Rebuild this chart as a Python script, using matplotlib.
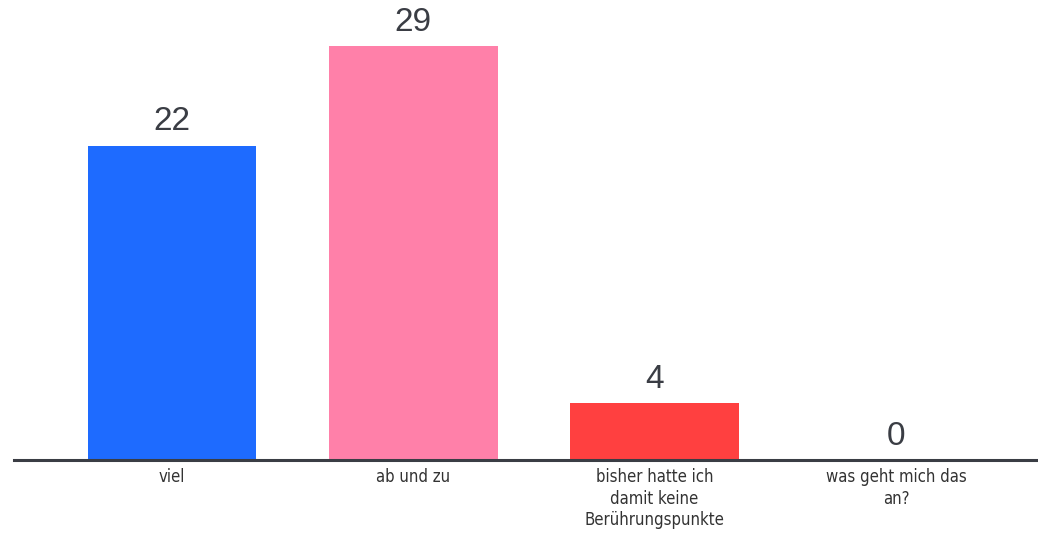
import matplotlib.pyplot as plt

# Survey answers and counts
categories = ["viel", "ab und zu", "bisher hatte ich\ndamit keine\nBerührungspunkte", "was geht mich das\nan?"]
counts = [22, 29, 4, 0]
colors = ["#1e6bff", "#ff80a9", "#ff4040", "#8a8a8a"]

W, H = 1038, 533
fig = plt.figure(figsize=(W / 100, H / 100), dpi=100)
# axes placed so the baseline sits near the lower edge
ax = fig.add_axes([14 / W, (H - 460) / H, 1 - 14 / W, 448 / H])

x = range(len(categories))
bars = ax.bar(x, counts, width=0.7, color=colors, zorder=2)

for rect, v in zip(bars, counts):
    ax.annotate(str(v), (rect.get_x() + rect.get_width() / 2, v),
                xytext=(0, 6), textcoords="offset points",
                ha="center", va="bottom", fontsize=24,
                family="Liberation Sans", color="#3a3d44")

ax.set_xlim(-0.655, 3.589)
ax.set_ylim(0, 31.37)
ax.set_xticks(list(x))
ax.set_xticklabels(categories, fontsize=12, color="#333333",
                   family="DejaVu Sans", fontstretch="condensed",
                   linespacing=1.25)
ax.tick_params(axis="x", length=0, pad=6)
ax.set_yticks([])

for side in ["top", "right", "left"]:
    ax.spines[side].set_visible(False)
ax.spines["bottom"].set_color("#3a3d44")
ax.spines["bottom"].set_linewidth(2.2)

fig.savefig("out.png", dpi=100)
